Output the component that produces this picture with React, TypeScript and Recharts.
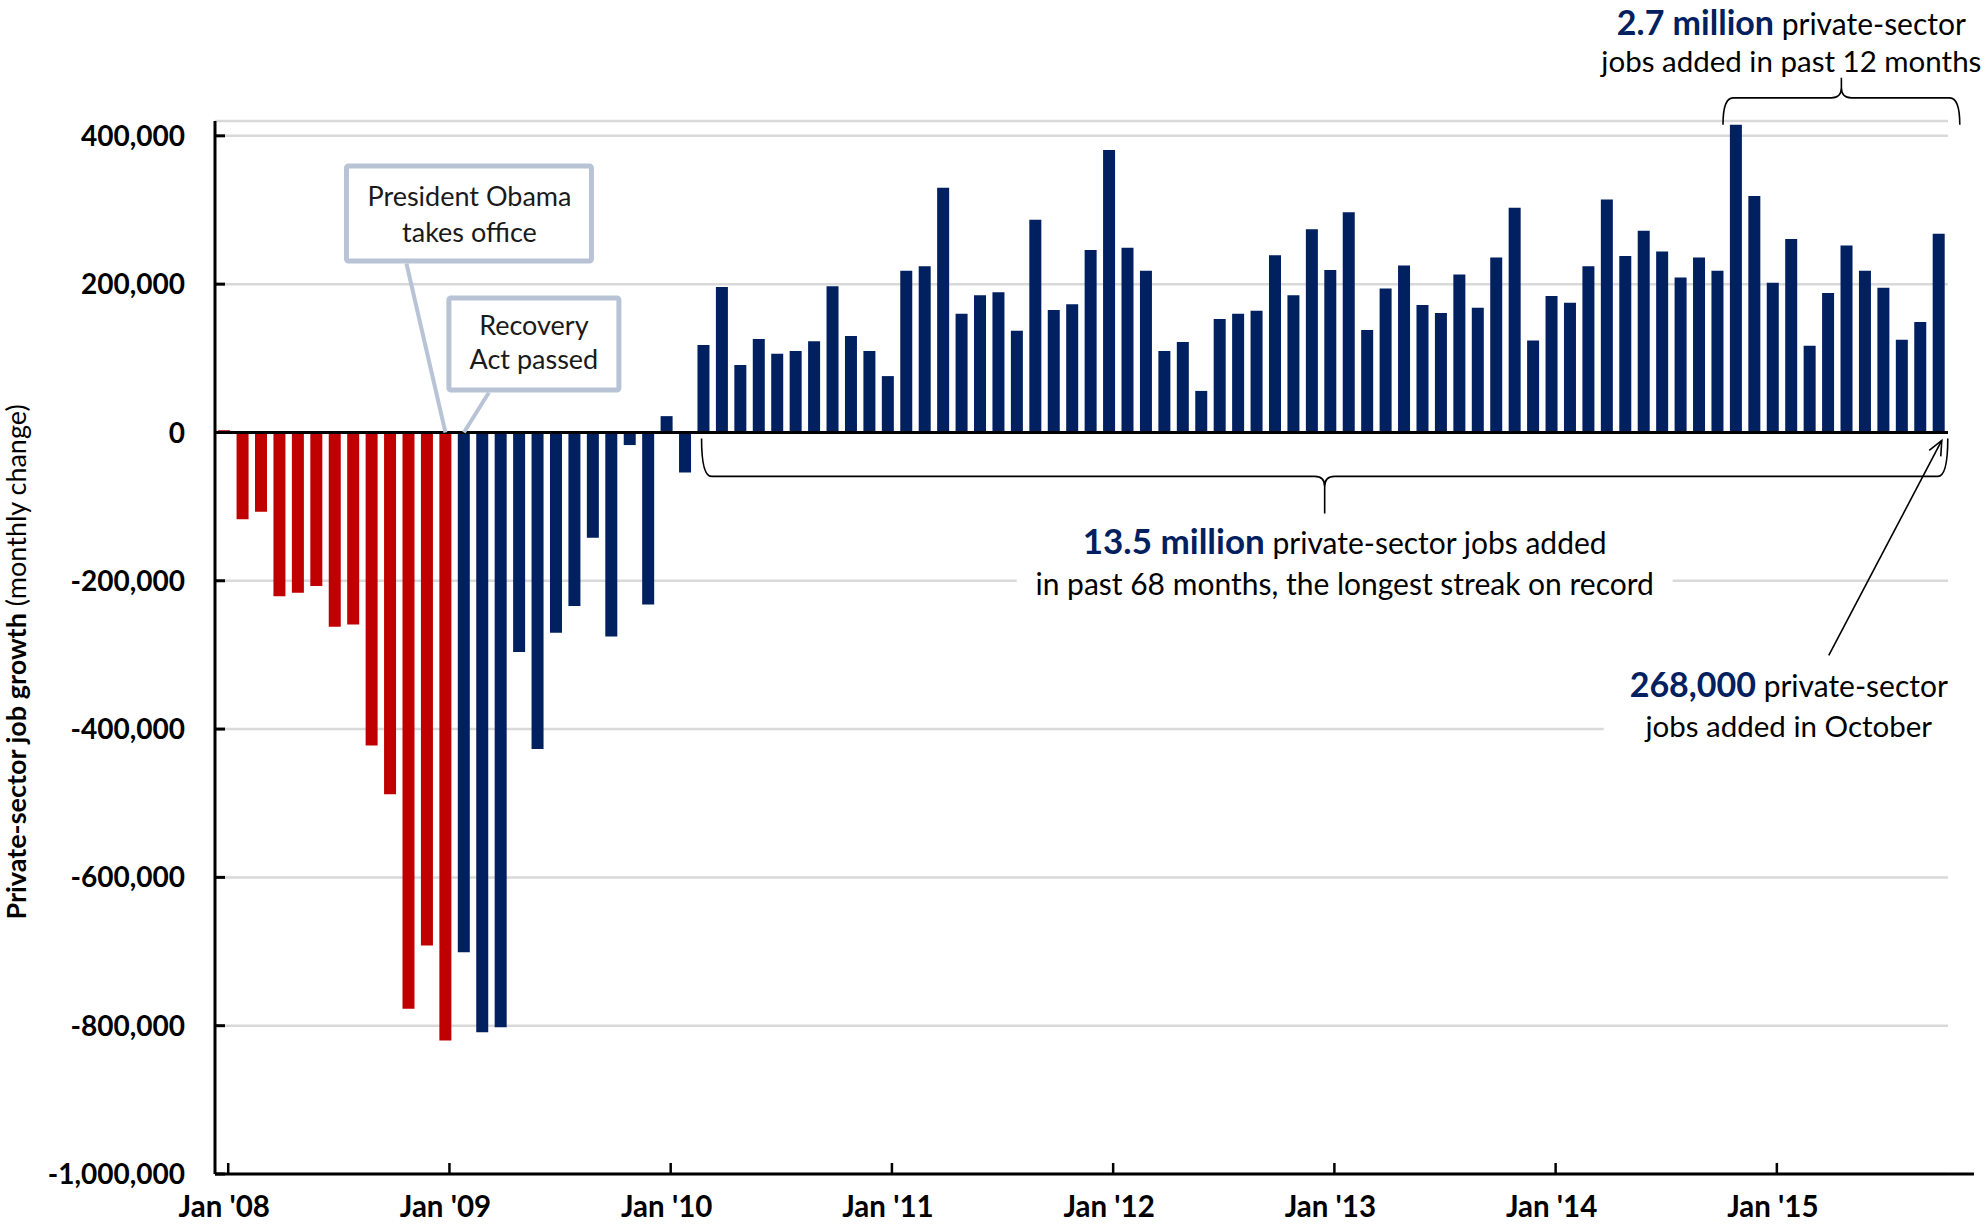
import { BarChart, Bar, Cell, XAxis, YAxis, CartesianGrid, ReferenceLine, ReferenceDot } from "recharts"

const MONTHS = ["Jan", "Feb", "Mar", "Apr", "May", "Jun", "Jul", "Aug", "Sep", "Oct", "Nov", "Dec"]
const YEARS = ["08", "09", "10", "11", "12", "13", "14", "15"]

// monthly change in private-sector payrolls
const jobs2008 = [3000, -117000, -107000, -221000, -216000, -207000, -262000, -259000, -422000, -488000, -777000, -692000]
const jobs2009 = [-820000, -701000, -809000, -802000, -296000, -427000, -270000, -234000, -142000, -275000, -17000, -232000]
const jobs2010 = [22000, -54000, 118000, 196000, 91000, 126000, 106000, 110000, 123000, 197000, 130000, 110000]
const jobs2011 = [76000, 218000, 224000, 330000, 160000, 185000, 189000, 137000, 287000, 165000, 173000, 246000]
const jobs2012 = [381000, 249000, 218000, 110000, 122000, 56000, 153000, 160000, 164000, 239000, 185000, 274000]
const jobs2013 = [219000, 297000, 138000, 194000, 225000, 172000, 161000, 213000, 168000, 236000, 303000, 124000]
const jobs2014 = [184000, 175000, 224000, 314000, 238000, 272000, 244000, 209000, 236000, 218000, 415000, 319000]
const jobs2015 = [202000, 261000, 117000, 188000, 252000, 218000, 195000, 125000, 149000, 268000]

const allJobs = [...jobs2008, ...jobs2009, ...jobs2010, ...jobs2011, ...jobs2012, ...jobs2013, ...jobs2014, ...jobs2015]
const categories = YEARS.flatMap((yr) => MONTHS.map((m) => `${m} '${yr}`)).slice(0, allJobs.length)

const yTicks = [400000, 200000, 0, -200000, -400000, -600000, -800000, -1000000]
const LAST_BUSH_MONTH = "Jan '09"

const data = categories.map((month, i) => ({ month, jobs: allJobs[i] }))
const lastBushIndex = categories.indexOf(LAST_BUSH_MONTH)

const FONT = "Lato, 'Open Sans', sans-serif"
const NAVY = "#002060"
const RED = "#C00000"
const CALLOUT = "#B8C4D6"
const GRID = "#D9D9D9"
const TXT = 30
const HI = 35

function YTick({ x, y, payload }: any) {
  return (
    <g>
      <line x1={x} x2={x + 10} y1={y} y2={y} stroke="#000" strokeWidth={3} />
      <text x={x - 30} y={y} dy="0.36em" textAnchor="end" fontFamily={FONT} fontWeight={700} fontSize={28} fill="#000">
        {Number(payload.value).toLocaleString("en-US")}
      </text>
    </g>
  )
}

function XTick({ x, y, payload }: any) {
  if (!String(payload.value).startsWith("Jan")) return <g />
  return (
    <g>
      <line x1={x + 4} x2={x + 4} y1={y - 11} y2={y} stroke="#000" strokeWidth={2.5} />
      <text x={x} y={y + 43} textAnchor="middle" fontFamily={FONT} fontWeight={700} fontSize={29.5} fill="#000">
        {payload.value}
      </text>
    </g>
  )
}

function YLabel() {
  return (
    <text x={26} y={662} transform="rotate(-90, 26, 662)" textAnchor="middle" fontFamily={FONT} fontSize={27} fill="#000">
      <tspan fontWeight={700}>Private-sector job growth</tspan>
      <tspan> (monthly change)</tspan>
    </text>
  )
}

function bracePath(xl: number, xr: number, yEnd: number, yMid: number, yTip: number, r: number) {
  const xm = (xl + xr) / 2
  const s = yTip > yMid ? 1 : -1
  return [
    `M ${xl} ${yEnd}`,
    `Q ${xl} ${yMid} ${xl + r} ${yMid}`,
    `L ${xm - r} ${yMid}`,
    `Q ${xm} ${yMid} ${xm} ${yMid + s * r}`,
    `L ${xm} ${yTip}`,
    `M ${xm} ${yMid + s * r}`,
    `Q ${xm} ${yMid} ${xm + r} ${yMid}`,
    `L ${xr - r} ${yMid}`,
    `Q ${xr} ${yMid} ${xr} ${yEnd}`,
  ].join(" ")
}

// segment from Mar '10 to Oct '15, just under the zero line
function StreakBrace({ x1, x2, y1 }: any) {
  const xl = x1 - 2
  const xr = x2 + 9
  const yEnd = y1
  const yMid = y1 + 38
  const yTip = y1 + 75
  const tx = (xl + xr) / 2 + 20
  return (
    <g>
      <path d={bracePath(xl, xr, yEnd, yMid, yTip, 10)} fill="none" stroke="#000" strokeWidth={1.6} />
      <rect x={tx - 328} y={yTip + 8} width={656} height={88} fill="#fff" />
      <text x={tx} y={yTip + 41} textAnchor="middle" fontFamily={FONT} fontSize={TXT} fill="#000">
        <tspan fontWeight={700} fill={NAVY} fontSize={HI}>13.5 million</tspan>
        <tspan> private-sector jobs added</tspan>
      </text>
      <text x={tx} y={yTip + 82} textAnchor="middle" fontFamily={FONT} fontSize={TXT} fill="#000">
        in past 68 months, the longest streak on record
      </text>
    </g>
  )
}

// segment from Nov '14 to Oct '15 at the 400,000 line
function YearBrace({ x1, x2, y1 }: any) {
  const xl = x1 - 13
  const xr = x2 + 21
  const yEnd = y1 - 11
  const yMid = y1 - 38
  const yTip = y1 - 58
  const tx = (xl + xr) / 2 - 50
  return (
    <g>
      <path d={bracePath(xl, xr, yEnd, yMid, yTip, 10)} fill="none" stroke="#000" strokeWidth={1.6} />
      <text x={tx} y={y1 - 101} textAnchor="middle" fontFamily={FONT} fontSize={TXT} fill="#000">
        <tspan fontWeight={700} fill={NAVY} fontSize={34}>2.7 million</tspan>
        <tspan> private-sector</tspan>
      </text>
      <text x={tx} y={y1 - 64} textAnchor="middle" fontFamily={FONT} fontSize={29.5} fill="#000">
        jobs added in past 12 months
      </text>
    </g>
  )
}

function OctoberNote({ cx, cy }: any) {
  const hx = cx + 3
  const hy = cy + 8
  const sx = cx - 110
  const sy = cy + 223
  const ang = Math.atan2(hy - sy, hx - sx)
  const len = 16
  const spread = 0.42
  const a1x = hx - len * Math.cos(ang - spread)
  const a1y = hy - len * Math.sin(ang - spread)
  const a2x = hx - len * Math.cos(ang + spread)
  const a2y = hy - len * Math.sin(ang + spread)
  const tx = cx - 150
  return (
    <g>
      <line x1={sx} y1={sy} x2={hx} y2={hy} stroke="#000" strokeWidth={1.6} />
      <polyline points={`${a1x},${a1y} ${hx},${hy} ${a2x},${a2y}`} fill="none" stroke="#000" strokeWidth={1.6} />
      <rect x={cx - 335} y={cy + 230} width={348} height={90} fill="#fff" />
      <text x={tx} y={cy + 265} textAnchor="middle" fontFamily={FONT} fontSize={TXT} fill="#000">
        <tspan fontWeight={700} fill={NAVY} fontSize={34}>268,000</tspan>
        <tspan> private-sector</tspan>
      </text>
      <text x={tx} y={cy + 305} textAnchor="middle" fontFamily={FONT} fontSize={29.5} fill="#000">
        jobs added in October
      </text>
    </g>
  )
}

function makeCallout(lines: string[], box: { dx: number; dy: number; w: number; h: number }, from: { dx: number; dy: number }, text: { dx: number; dy: number; gap: number }) {
  return ({ cx, cy }: any) => (
    <g>
      <line x1={cx + from.dx} y1={cy + from.dy} x2={cx} y2={cy} stroke={CALLOUT} strokeWidth={4} />
      <rect x={cx + box.dx} y={cy + box.dy} width={box.w} height={box.h} rx={2} fill="#fff" stroke={CALLOUT} strokeWidth={5} />
      {lines.map((l, i) => (
        <text key={l} x={cx + text.dx} y={cy + text.dy + i * text.gap} textAnchor="middle" fontFamily={FONT} fontSize={27} fill="#1a1a1a">
          {l}
        </text>
      ))}
    </g>
  )
}

const ObamaCallout = makeCallout(["President Obama", "takes office"], { dx: -99, dy: -266.5, w: 245, h: 95 }, { dx: -39, dy: -169 }, { dx: 24, dy: -226, gap: 36 })
const RecoveryCallout = makeCallout(["Recovery", "Act passed"], { dx: -15, dy: -134.5, w: 170, h: 92 }, { dx: 25, dy: -40 }, { dx: 70, dy: -97, gap: 34 })

export default function App() {
  return (
    <div style={{ width: 1986, height: 1225, background: "#fff" }}>
      <style>{"body{margin:0}"}</style>
      <BarChart width={1986} height={1225} data={data} margin={{ top: 121, right: 38, bottom: 0, left: 0 }} barCategoryGap="17%">
        <CartesianGrid vertical={false} stroke={GRID} strokeWidth={2.5} />
        <XAxis dataKey="month" interval={0} height={51} tick={<XTick />} tickLine={false} axisLine={false} tickSize={0} tickMargin={0} />
        <YAxis
          type="number"
          domain={[-1000000, 420000]}
          ticks={yTicks}
          interval={0}
          width={215}
          tick={<YTick />}
          tickLine={false}
          tickSize={0}
          tickMargin={0}
          axisLine={{ stroke: "#000", strokeWidth: 3 }}
          label={{ content: <YLabel /> }}
        />
        <Bar dataKey="jobs" isAnimationActive={false}>
          {data.map((d, i) => (
            <Cell key={d.month} fill={i <= lastBushIndex ? RED : NAVY} />
          ))}
        </Bar>
        <ReferenceLine y={0} stroke="#000" strokeWidth={3} />
        <ReferenceLine
          y={-1000000}
          shape={(p: any) => <line x1={p.x1} y1={p.y1} x2={p.x2 + 26} y2={p.y2} stroke="#000" strokeWidth={3} />}
        />
        <ReferenceLine
          segment={[{ x: "Mar '10", y: -8000 }, { x: "Oct '15", y: -8000 }]}
          shape={(p: any) => <StreakBrace {...p} />}
        />
        <ReferenceLine
          segment={[{ x: "Nov '14", y: 400000 }, { x: "Oct '15", y: 400000 }]}
          shape={(p: any) => <YearBrace {...p} />}
        />
        <ReferenceDot x="Oct '15" y={0} shape={<OctoberNote />} ifOverflow="visible" />
        <ReferenceDot x="Jan '09" y={0} shape={<ObamaCallout />} ifOverflow="visible" />
        <ReferenceDot x="Feb '09" y={0} shape={<RecoveryCallout />} ifOverflow="visible" />
      </BarChart>
    </div>
  )
}
